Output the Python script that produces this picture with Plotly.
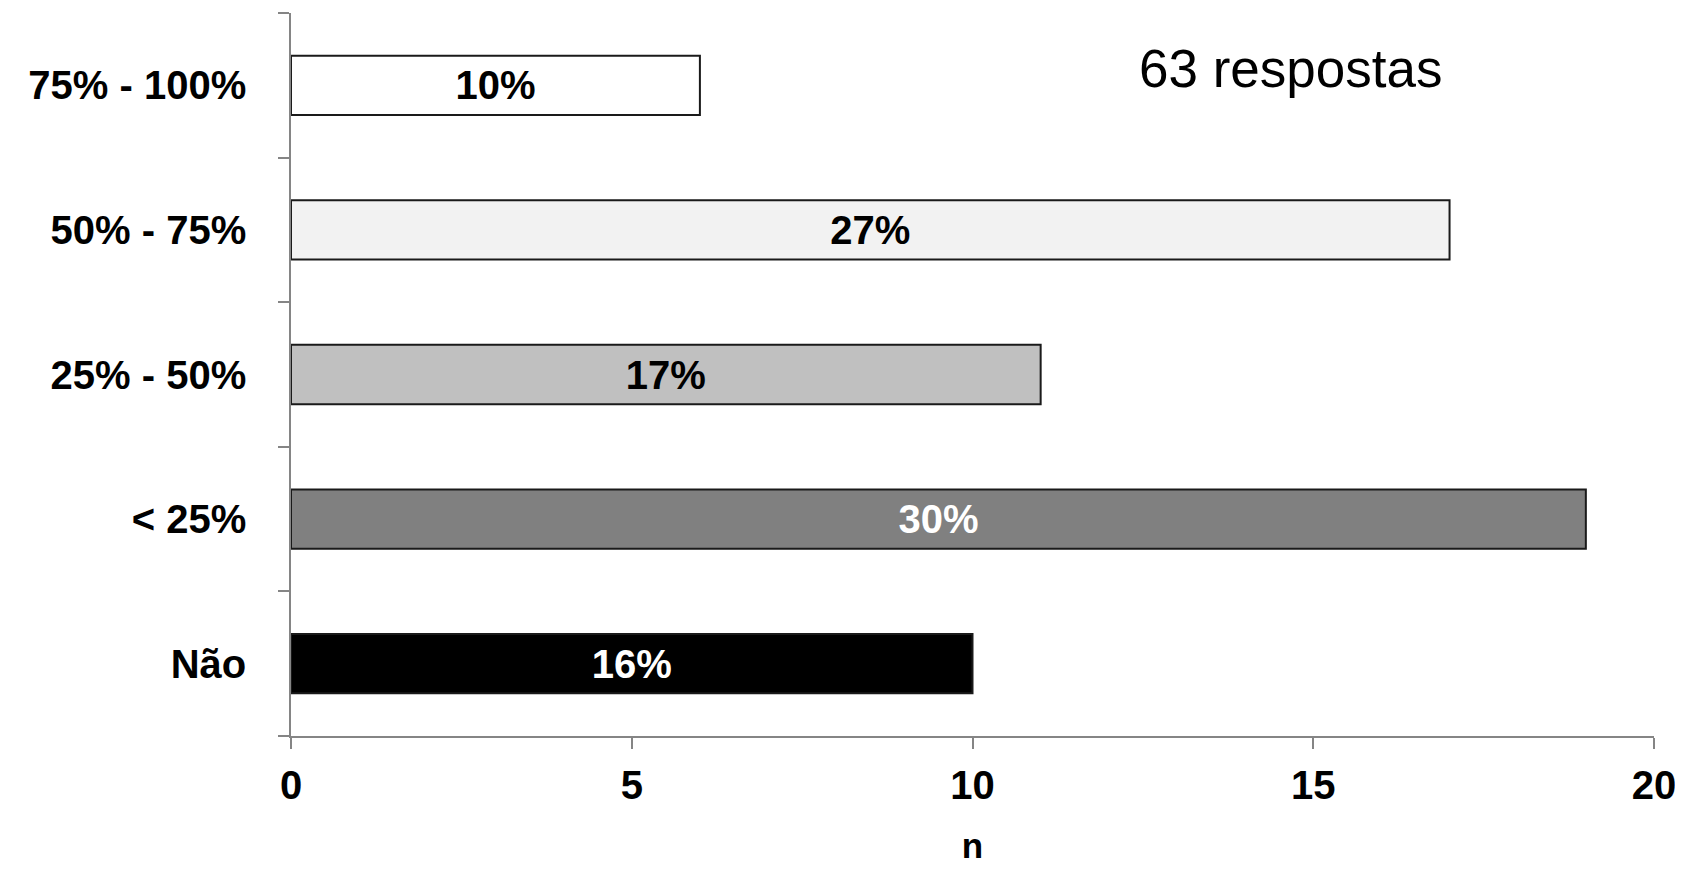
import plotly.graph_objects as go

categories = ["Não", "< 25%", "25% - 50%", "50% - 75%", "75% - 100%"]
counts = [10, 19, 11, 17, 6]
pct_labels = ["16%", "30%", "17%", "27%", "10%"]
bar_colors = ["#000000", "#808080", "#c0c0c0", "#f2f2f2", "#ffffff"]
text_colors = ["#ffffff", "#ffffff", "#000000", "#000000", "#000000"]
x_ticks = [0, 5, 10, 15, 20]
note = "63 respostas"

FONT = "Liberation Sans, Arial, sans-serif"

L, R, T, B = 283, 37, 5, 143
W, H = 1683, 871

fig = go.Figure(
    go.Bar(
        x=counts,
        y=categories,
        orientation="h",
        marker=dict(color=bar_colors, line=dict(color="#1a1a1a", width=2)),
        text=pct_labels,
        textposition="inside",
        insidetextanchor="middle",
        textangle=0,
        insidetextfont=dict(family=FONT, size=40, color=text_colors, weight="bold"),
        width=0.41,
        showlegend=False,
        hoverinfo="skip",
    )
)

fig.update_layout(
    width=W,
    height=H,
    autosize=False,
    margin=dict(l=L, r=R, t=T, b=B),
    paper_bgcolor="white",
    plot_bgcolor="white",
    font=dict(family=FONT, color="black"),
    uniformtext=dict(minsize=40, mode="show"),
)

fig.update_xaxes(
    range=[0, 20],
    tickvals=x_ticks,
    ticktext=[str(v) for v in x_ticks],
    ticks="outside",
    ticklen=11,
    tickwidth=1.5,
    tickcolor="#858585",
    showline=True,
    linecolor="#858585",
    linewidth=1.5,
    showgrid=False,
    zeroline=False,
    tickfont=dict(family=FONT, size=40, color="black", weight="bold"),
    ticklabelstandoff=2,
    title=dict(text="n", font=dict(family=FONT, size=35, color="black", weight="bold"), standoff=28),
)

fig.update_yaxes(
    categoryorder="array",
    categoryarray=categories,
    range=[-0.5, 4.5],
    ticks="outside",
    tickson="boundaries",
    ticklen=11,
    tickwidth=1.5,
    tickcolor="#858585",
    showline=True,
    linecolor="#858585",
    linewidth=1.5,
    showgrid=False,
    zeroline=False,
    tickfont=dict(family=FONT, size=40, color="black", weight="bold"),
    ticklabelstandoff=35,
)

fig.add_annotation(
    text=note,
    xref="paper", yref="paper",
    x=(1282 - L) / (W - L - R),
    y=1 - (61 - T) / (H - T - B),
    xanchor="center", yanchor="middle",
    showarrow=False,
    font=dict(family=FONT, size=53, color="black"),
)

fig.write_html("out.html")
